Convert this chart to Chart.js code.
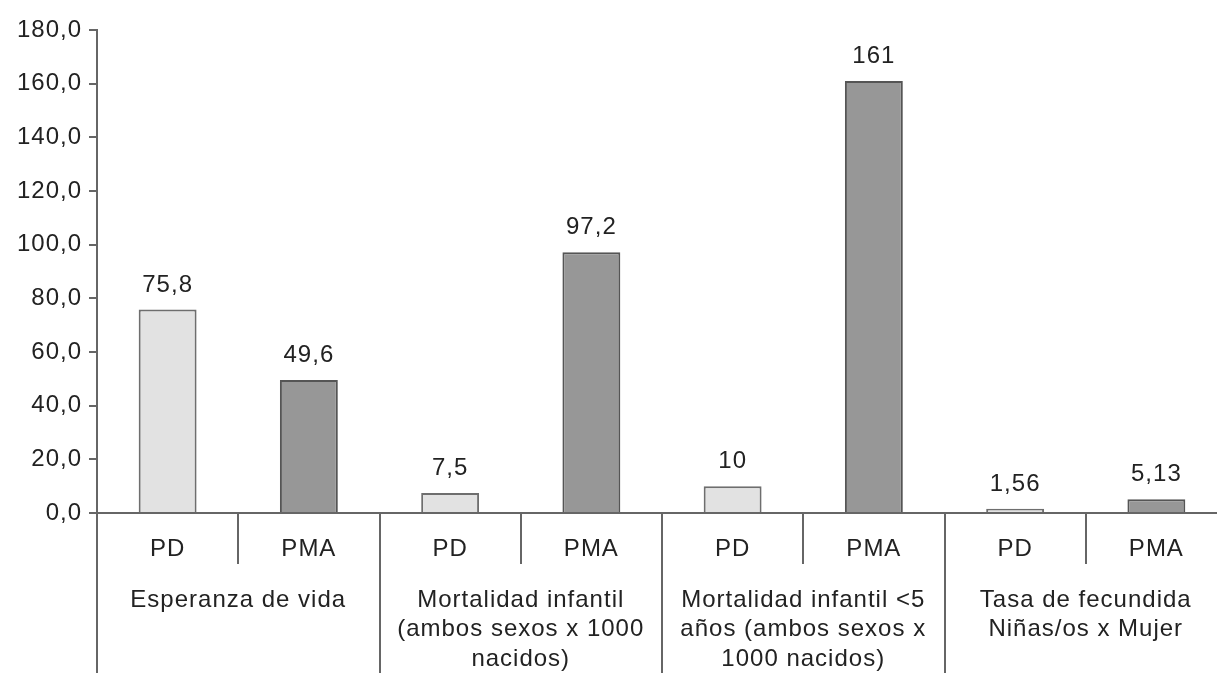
<!DOCTYPE html>
<html lang="es">
<head>
<meta charset="utf-8">
<title>Indicadores demográficos PD / PMA</title>
<script src="https://cdn.jsdelivr.net/npm/chart.js@4/dist/chart.umd.min.js"></script>
<style>
  html, body { margin: 0; padding: 0; background: #fff; overflow: hidden; }
  #wrap { width: 1240px; height: 673px; }
</style>
</head>
<body>
<div id="wrap"><canvas id="chart" width="1240" height="673"></canvas></div>
<script>
// Indicator groups (multi-line captions under each pair of bars)
const groups = [
  ["Esperanza de vida"],
  ["Mortalidad infantil", "(ambos sexos x 1000", "nacidos)"],
  ["Mortalidad infantil <5", "años (ambos sexos x", "1000 nacidos)"],
  ["Tasa de fecundida", "Niñas/os x Mujer"]
];
// Country groups compared inside each indicator
const series = ["PD", "PMA"];
// Values per indicator, same order as groups
const pdValues  = [75.8, 7.5, 10, 1.56];
const pmaValues = [49.6, 97.2, 161, 5.13];
// Y axis ticks
const yTicks = [0, 20, 40, 60, 80, 100, 120, 140, 160, 180];

const seriesFill   = { PD: "#e2e2e2", PMA: "#979797" };
const seriesBorder = { PD: "#6e6e6e", PMA: "#555555" };
const lineColor = "#666666";
const textColor = "#222222";
const fontFamily = "'Liberation Sans', Arial, Helvetica, sans-serif";
const fontSize = 24;

const labels = groups.flatMap(() => series);
const values = groups.flatMap((g, i) => [pdValues[i], pmaValues[i]]);
const fmt = v => String(v).replace(".", ",");

// Slightly open letter spacing for every text on the canvas
const spacing = {
  id: "spacing",
  beforeDraw(chart) { chart.ctx.letterSpacing = "1px"; }
};

// Draws value labels, sub-category labels, group captions and separators
const decorations = {
  id: "decorations",
  afterDatasetsDraw(chart) {
    const ctx = chart.ctx;
    const meta = chart.getDatasetMeta(0);
    ctx.save();
    ctx.fillStyle = textColor;
    ctx.font = fontSize + "px " + fontFamily;
    ctx.textAlign = "center";
    ctx.textBaseline = "alphabetic";
    meta.data.forEach((bar, i) => {
      ctx.fillText(fmt(values[i]), bar.x, bar.y - 18);
    });
    ctx.restore();
  },
  afterDraw(chart) {
    const ctx = chart.ctx;
    const x = chart.scales.x;
    const top = chart.chartArea.bottom;
    const H = chart.height;
    const slot = x.getPixelForValue(1) - x.getPixelForValue(0);
    ctx.save();
    ctx.strokeStyle = lineColor;
    ctx.lineWidth = 2;
    ctx.fillStyle = textColor;
    ctx.font = fontSize + "px " + fontFamily;
    ctx.textAlign = "center";
    ctx.textBaseline = "middle";

    // sub-category labels
    labels.forEach((lab, i) => {
      ctx.fillText(lab, x.getPixelForValue(i), top + 36);
    });

    groups.forEach((lines, g) => {
      const first = g * series.length;
      const left = x.getPixelForValue(first) - slot / 2;
      // group boundary (full height)
      ctx.beginPath();
      ctx.moveTo(Math.round(left), top);
      ctx.lineTo(Math.round(left), H);
      ctx.stroke();
      // boundaries between sub-categories (short)
      for (let k = 1; k < series.length; k++) {
        const sx = Math.round(x.getPixelForValue(first + k) - slot / 2);
        ctx.beginPath();
        ctx.moveTo(sx, top);
        ctx.lineTo(sx, top + 51);
        ctx.stroke();
      }
      // group caption
      const cx = left + slot * series.length / 2;
      lines.forEach((t, li) => {
        ctx.fillText(t, cx, top + 87 + li * 29.5);
      });
    });
    // right end of last group
    const lastRight = Math.round(x.getPixelForValue(labels.length - 1) + slot / 2);
    ctx.beginPath();
    ctx.moveTo(lastRight, top);
    ctx.lineTo(lastRight, H);
    ctx.stroke();
    ctx.restore();
  }
};

new Chart(document.getElementById("chart"), {
  type: "bar",
  data: {
    labels: labels,
    datasets: [{
      data: values,
      backgroundColor: labels.map(s => seriesFill[s]),
      borderColor: labels.map(s => seriesBorder[s]),
      borderWidth: 2,
      borderSkipped: "bottom",
      categoryPercentage: 1,
      barPercentage: 0.41
    }]
  },
  options: {
    responsive: false,
    animation: false,
    devicePixelRatio: 1,
    layout: { padding: { left: 0, right: 13, top: 30, bottom: 0 } },
    plugins: { legend: { display: false }, tooltip: { enabled: false } },
    scales: {
      x: {
        grid: { display: false },
        border: { display: true, color: lineColor, width: 2 },
        ticks: { display: false },
        afterFit(scale) { scale.height = 160; }
      },
      y: {
        min: 0,
        max: 180,
        afterBuildTicks(scale) { scale.ticks = yTicks.map(v => ({ value: v })); },
        ticks: {
          color: textColor,
          font: { family: fontFamily, size: fontSize },
          padding: 7,
          callback: v => fmt(Number(v).toFixed(1))
        },
        grid: { drawOnChartArea: false, drawTicks: true, tickLength: 8, color: lineColor, lineWidth: 2 },
        border: { display: true, color: lineColor, width: 2 },
        afterFit(scale) { scale.width = 97; }
      }
    }
  },
  plugins: [spacing, decorations]
});
</script>
</body>
</html>
